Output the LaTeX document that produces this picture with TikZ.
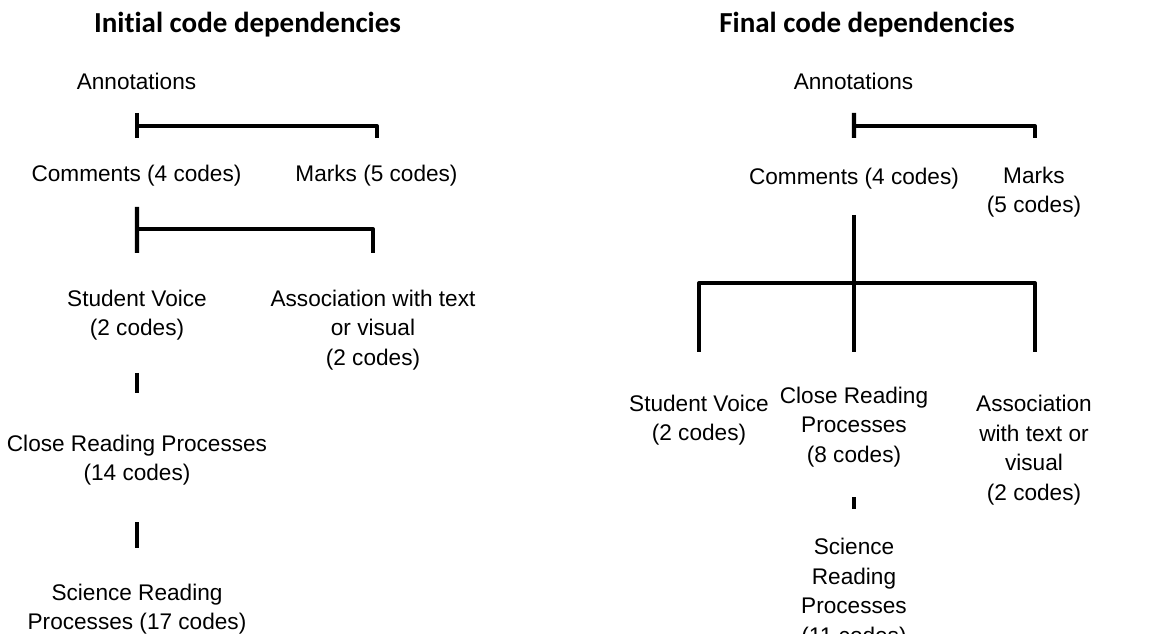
\documentclass[tikz,border=0pt]{standalone}
\usepackage{fontspec}
\setmainfont{Liberation Sans}
\newfontfamily\titlefont[Ligatures=NoCommon]{Carlito}
\usetikzlibrary{calc}
\begin{document}
\begin{tikzpicture}[x=0.02cm,y=-0.02cm,
  lbl/.style={inner sep=0pt,align=center,font=\fontsize{12.87}{16.8}\selectfont},
  ttl/.style={inner sep=0pt,font=\titlefont\bfseries\fontsize{16.5}{20}\selectfont},
  conn/.style={line width=2.3pt,line cap=butt,line join=round}]
\clip (0,0) rectangle (1152,634);
\fill[white] (0,0) rectangle (1152,634);
% left tree
\node[ttl] (titleL) at (247.5,25) {Initial code dependencies};
\node[lbl] (annL) at (136.5,81) {Annotations};
\node[lbl] (comL) at (136.5,176) {Comments (4 codes)};
\node[lbl] (marksL) at (376.5,176) {Marks (5 codes)};
\node[lbl] (svL) at (137,315) {Student Voice\\(2 codes)};
\node[lbl] (assocL) at (373,330) {Association with text\\or visual\\(2 codes)};
\node[lbl] (crL) at (137,460) {Close Reading Processes\\(14 codes)};
\node[lbl] (srL) at (137,609) {Science Reading\\Processes (17 codes)};
\draw[conn] ($(annL.center)+(0.5,32)$) -- ($(comL.center)+(0.5,-38)$);
\draw[conn] ($(annL.center)+(0.5,45)$) -| ($(marksL.center)+(0.5,-38)$);
\draw[conn] ($(comL.center)+(0.5,31)$) -- ($(svL.center)+(0,-62)$);
\draw[conn] ($(comL.center)+(0.5,53)$) -| ($(assocL.center)+(0,-77)$);
\draw[conn] ($(svL.center)+(0,58)$) -- ($(crL.center)+(0,-67)$);
\draw[conn] ($(crL.center)+(0,62)$) -- ($(srL.center)+(0,-61)$);
% right tree
\node[ttl] (titleR) at (867,25) {Final code dependencies};
\node[lbl] (annR) at (853.5,81) {Annotations};
\node[lbl] (comR) at (854,179) {Comments (4 codes)};
\node[lbl] (marksR) at (1034,192) {Marks\\(5 codes)};
\node[lbl] (svR) at (699,420) {Student Voice\\(2 codes)};
\node[lbl] (crR) at (854,427) {Close Reading\\Processes\\(8 codes)};
\node[lbl] (assocR) at (1034,450) {Association\\with text or\\visual\\(2 codes)};
\node[lbl] (srR) at (854,593) {Science\\Reading\\Processes\\(11 codes)};
\draw[conn] ($(annR.center)+(0.5,32)$) -- ($(comR.center)+(0,-41)$);
\draw[conn] ($(annR.center)+(0.5,45)$) -| ($(marksR.center)+(1,-54)$);
\draw[conn] ($(comR.center)+(0,36)$) -- ($(crR.center)+(0,-75)$);
\draw[conn] ($(svR.center)+(0,-68)$) |- ($(assocR.center)+(1,-167)$) -- ($(assocR.center)+(1,-98)$);
\draw[conn] ($(crR.center)+(0,70)$) -- ($(srR.center)+(0,-84)$);
\end{tikzpicture}
\end{document}
